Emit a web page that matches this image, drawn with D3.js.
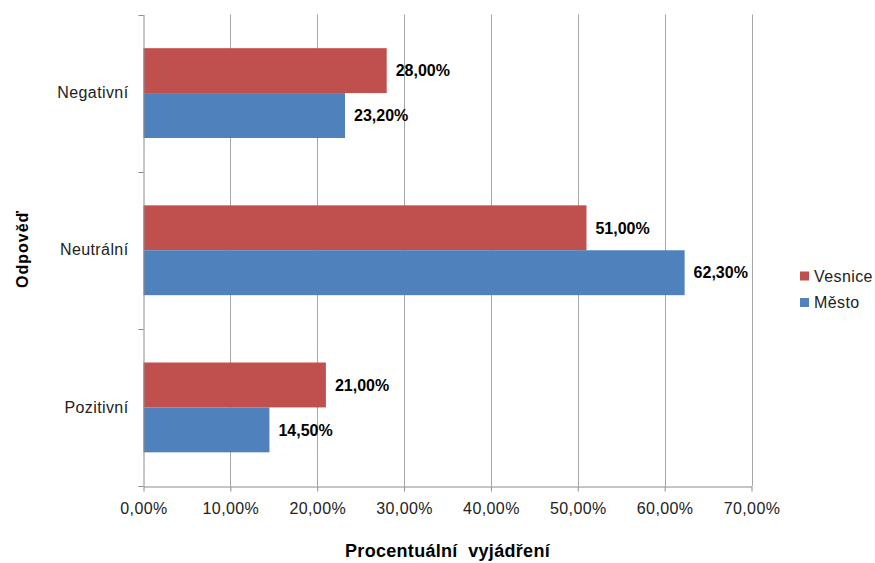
<!DOCTYPE html>
<html>
<head>
<meta charset="utf-8">
<script src="https://cdn.jsdelivr.net/npm/d3@7"></script>
<style>
  body { margin: 0; background: #fff; }
  svg { font-family: "Liberation Sans", Arial, sans-serif; }
</style>
</head>
<body>
<div class="svg-container"></div>
<script>
var width = 875;
var height = 563;

// data
var categories = ["Negativní", "Neutrální", "Pozitivní"];
var seriesNames = ["Vesnice", "Město"];
var vesnice = [28.0, 51.0, 21.0];
var mesto = [23.2, 62.3, 14.5];
var xTicks = [0, 10, 20, 30, 40, 50, 60, 70];

var colors = { "Vesnice": "#C0504D", "Město": "#4F81BD" };

var plot = { left: 143.5, right: 751.5, top: 14.5, bottom: 486 };

var formatPct = function(v) { return d3.format(".2f")(v).replace(".", ",") + "%"; };

var svg = d3.select(".svg-container").append("svg")
            .attr("width", width)
            .attr("height", height);

var scaleX = d3.scaleLinear()
               .domain([0, 70])
               .range([plot.left, plot.right]);

var scaleY = d3.scaleBand()
               .domain(categories)
               .range([plot.top, plot.bottom]);

// two bars per category, gap of 0.75 bar on each side
var scaleInner = d3.scaleBand()
                   .domain(seriesNames)
                   .range([0, scaleY.bandwidth()])
                   .paddingOuter(0.75)
                   .paddingInner(0);

// gridlines
svg.append("g")
   .attr("class", "grid")
   .selectAll("line")
   .data(xTicks.slice(1))
   .enter()
   .append("line")
     .attr("x1", function(d) { return Math.round(scaleX(d)) + 0.5; })
     .attr("x2", function(d) { return Math.round(scaleX(d)) + 0.5; })
     .attr("y1", plot.top)
     .attr("y2", plot.bottom)
     .attr("stroke", "#a6a6a6")
     .attr("stroke-width", 1);

// bars
var rows = categories.map(function(c, i) {
  return { cat: c, values: [
    { name: "Vesnice", value: vesnice[i] },
    { name: "Město", value: mesto[i] }
  ]};
});

var groups = svg.append("g")
  .attr("class", "bars")
  .selectAll("g")
  .data(rows)
  .enter()
  .append("g")
    .attr("transform", function(d) { return "translate(0," + scaleY(d.cat) + ")"; });

groups.selectAll("rect")
  .data(function(d) { return d.values; })
  .enter()
  .append("rect")
    .attr("x", scaleX(0))
    .attr("y", function(d) { return scaleInner(d.name); })
    .attr("width", function(d) { return scaleX(d.value) - scaleX(0); })
    .attr("height", scaleInner.bandwidth())
    .attr("fill", function(d) { return colors[d.name]; });

groups.selectAll("text")
  .data(function(d) { return d.values; })
  .enter()
  .append("text")
    .attr("x", function(d) { return scaleX(d.value) + 9; })
    .attr("y", function(d) { return scaleInner(d.name) + scaleInner.bandwidth() / 2; })
    .attr("dy", "0.36em")
    .attr("font-size", 16)
    .attr("font-weight", "bold")
    .attr("fill", "#000")
    .text(function(d) { return formatPct(d.value); });

// x axis
var xAxis = svg.append("g")
  .attr("transform", "translate(0," + (plot.bottom + 0.5) + ")")
  .call(d3.axisBottom(scaleX).tickValues(xTicks).tickSize(5).tickSizeOuter(0).tickFormat(formatPct));
xAxis.selectAll("path, line").attr("stroke", "#8c8c8c");
xAxis.selectAll("text")
  .attr("font-size", 16)
  .attr("letter-spacing", 0.4)
  .attr("font-family", "Liberation Sans, Arial, sans-serif")
  .attr("fill", "#222")
  .attr("dy", "1.22em");

// y axis
var yAxis = svg.append("g")
  .attr("transform", "translate(" + (plot.left) + ",0)")
  .call(d3.axisLeft(scaleY).tickSize(0).tickPadding(15));
yAxis.select("path").attr("stroke", "#8c8c8c");
yAxis.selectAll("text")
  .attr("font-size", 16)
  .attr("letter-spacing", 0.4)
  .attr("font-family", "Liberation Sans, Arial, sans-serif")
  .attr("fill", "#222");

// category boundary ticks
var boundaries = categories.map(function(c) { return scaleY(c); }).concat([plot.bottom]);
svg.append("g")
   .selectAll("line")
   .data(boundaries)
   .enter()
   .append("line")
     .attr("x1", plot.left - 5)
     .attr("x2", plot.left)
     .attr("y1", function(d) { return Math.round(d) + 0.5; })
     .attr("y2", function(d) { return Math.round(d) + 0.5; })
     .attr("stroke", "#8c8c8c");

// axis titles
svg.append("text")
   .attr("x", (plot.left + plot.right) / 2)
   .attr("y", 557)
   .attr("text-anchor", "middle")
   .attr("font-size", 18)
   .attr("letter-spacing", 0.3)
   .attr("font-weight", "bold")
   .attr("xml:space", "preserve")
   .text("Procentuální  vyjádření");

svg.append("text")
   .attr("transform", "translate(28,249) rotate(-90)")
   .attr("text-anchor", "middle")
   .attr("font-size", 16)
   .attr("letter-spacing", 1)
   .attr("font-weight", "bold")
   .text("Odpověď");

// legend
var legend = svg.append("g")
  .attr("class", "legend")
  .selectAll("g")
  .data(seriesNames)
  .enter()
  .append("g")
    .attr("transform", function(d, i) { return "translate(800," + (276 + i * 26.5) + ")"; });

legend.append("rect")
  .attr("x", 0)
  .attr("y", -4.5)
  .attr("width", 9)
  .attr("height", 9)
  .attr("fill", function(d) { return colors[d]; });

legend.append("text")
  .attr("x", 14)
  .attr("y", 0)
  .attr("dy", "0.36em")
  .attr("font-size", 16)
  .attr("letter-spacing", 0.4)
  .attr("fill", "#222")
  .text(function(d) { return d; });
</script>
</body>
</html>
